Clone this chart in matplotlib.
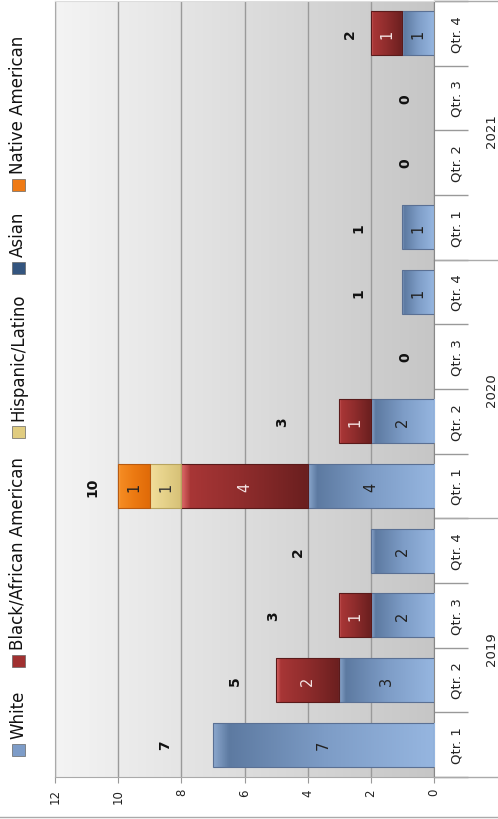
import numpy as np
import matplotlib.pyplot as plt
from matplotlib.colors import LinearSegmentedColormap
from matplotlib.patches import Rectangle
from matplotlib.lines import Line2D
import matplotlib.transforms as mtransforms

quarters = ['Qtr. 1', 'Qtr. 2', 'Qtr. 3', 'Qtr. 4'] * 3
years = ['2019', '2020', '2021']
names = ['White', 'Black/African American', 'Hispanic/Latino', 'Asian', 'Native American']
white = [7, 3, 2, 2, 4, 2, 0, 1, 1, 0, 0, 1]
black = [0, 2, 1, 0, 4, 1, 0, 0, 0, 0, 0, 1]
hispanic = [0, 0, 0, 0, 1, 0, 0, 0, 0, 0, 0, 0]
asian = [0, 0, 0, 0, 0, 0, 0, 0, 0, 0, 0, 0]
native = [0, 0, 0, 0, 1, 0, 0, 0, 0, 0, 0, 0]
# where the bold totals sit on the value axis
total_pos = [8.5, 6.3, 5.1, 4.3, 10.8, 4.8, 0.9, 2.4, 2.4, 0.9, 0.9, 2.65]

# low-value end -> high-value end of each bar gradient
grads = [['#96b6e0', '#7d9cc6', '#5d7aa1', '#8aa6cc'],
         ['#6a1f1f', '#8e2c2c', '#a83636', '#e06a6a'],
         ['#d6c076', '#e4d088', '#f0dc98', '#f8ecb8'],
         ['#4a6a9a', '#3a5a88', '#2b4a78', '#5a7aa8'],
         ['#e06a08', '#ec7a12', '#f58b22', '#fbb060']]
edges = ['#5a7094', '#5a1a1a', '#b8a460', '#23406a', '#b85a10']
swatch = ['#7d9cc8', '#a03030', '#e0cc80', '#34557f', '#ef7a14']
txtcol = ['#222222', '#f4e4e4', '#333333', '#f0f0f0', '#222222']

fig = plt.figure(figsize=(4.98, 8.2), dpi=100)
ax = fig.add_axes([55/498, 42/820, 379/498, 776/820])

# background gradient of the plot area
bg = LinearSegmentedColormap.from_list('bg', ['#f4f4f4', '#c6c6c6'])
ax.imshow(np.linspace(0, 1, 256).reshape(1, -1), cmap=bg, extent=(12, 0, -0.5, 11.5),
          aspect='auto', zorder=0)

y = np.arange(len(quarters))
left = np.zeros(len(quarters))
for i, vals in enumerate([white, black, hispanic, asian, native]):
    vals = np.array(vals)
    bars = ax.barh(y, vals, left=left, height=0.68, facecolor='none',
                   edgecolor=edges[i], linewidth=0.8, zorder=4)
    cm = LinearSegmentedColormap.from_list('s%d' % i, list(zip([0, 0.5, 0.93, 1.0], grads[i])))
    for p, v in zip(bars, vals):
        if v == 0:
            p.set_visible(False)
            continue
        x0, y0, w, h = p.get_x(), p.get_y(), p.get_width(), p.get_height()
        ax.imshow(np.linspace(0, 1, 128).reshape(1, -1), cmap=cm,
                  extent=(x0, x0 + w, y0, y0 + h), aspect='auto', origin='lower', zorder=3)
        ax.text(x0 + w / 2, y0 + h / 2, str(v), rotation=90, ha='center', va='center',
                fontsize=10.5, color=txtcol[i], zorder=5)
    left = left + vals

for yi, tot, pos in zip(y, left, total_pos):
    ax.text(pos, yi, str(int(tot)), rotation=90, ha='center', va='center',
            fontsize=10, fontweight='bold', color='#111111', zorder=5)

ax.set_xlim(12, 0)
ax.set_ylim(-0.5, 11.5)
ax.set_xticks(range(0, 13, 2))
ax.set_xticklabels([str(v) for v in range(0, 13, 2)], rotation=90, fontsize=8.5, color='#222222')
ax.tick_params(axis='x', length=4, color='#999999', pad=4)
ax.xaxis.grid(True, color='#9a9a9a', linewidth=1)
ax.set_axisbelow(True)
for g in ax.get_xgridlines():
    g.set_zorder(1)

ax.yaxis.tick_right()
ax.set_yticks(y)
ax.set_yticklabels(quarters, rotation=90, fontsize=9.5, va='center', color='#222222')
ax.set_yticks(np.arange(-0.5, 12, 1), minor=True)
ax.tick_params(axis='y', which='major', length=0, pad=12)
ax.tick_params(axis='y', which='minor', length=24.5, color='#999999', width=1)

for s in ['left', 'bottom']:
    ax.spines[s].set_color('#aaaaaa')
ax.spines['right'].set_color('#888888')
ax.spines['top'].set_color('#dddddd')

tr = mtransforms.blended_transform_factory(ax.transAxes, ax.transData)
for k, yr in enumerate(years):
    ax.text(1.153, 4 * k + 1.5, yr, rotation=90, ha='center', va='center',
            fontsize=9.5, color='#222222', transform=tr)
for yb in [-0.5, 3.5, 7.5, 11.5]:
    ax.add_line(Line2D([1.0, 1.17], [yb, yb], color='#aaaaaa', lw=1,
                       transform=tr, clip_on=False))

fig.add_artist(Line2D([0, 1], [2/820, 2/820], color='#aaaaaa', lw=1))

# legend, written sideways like the chart
sq_y = [751, 662, 433, 269, 186]
for name, c, sy in zip(names, swatch, sq_y):
    fig.add_artist(Rectangle((12/498, (820 - sy - 6)/820), 13/498, 12/820,
                             facecolor=c, edgecolor='#666666', linewidth=0.5))
    fig.text(18/498, (820 - sy + 12)/820, name, rotation=90, ha='center', va='bottom',
             fontsize=12, color='#111111')

fig.savefig('out.png', dpi=100)
